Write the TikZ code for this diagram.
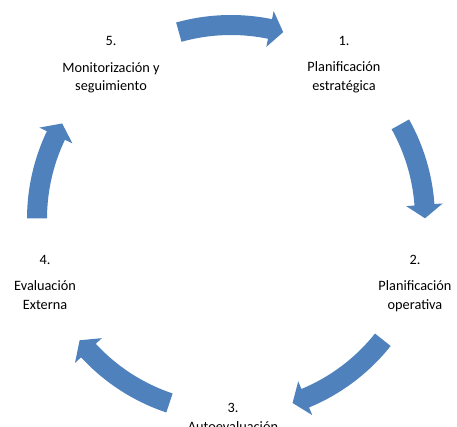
\documentclass[tikz,border=0pt]{standalone}
\usepackage{fontspec}
\setmainfont{Carlito}
\usetikzlibrary{calc}
\definecolor{cycleblue}{HTML}{4F81BD}

\begin{document}
\begin{tikzpicture}[x=1pt, y=1pt,
      lbl/.style={align=center, anchor=base, inner sep=0pt,
      font=\fontsize{14.3}{18.5}\selectfont},
      flow/.style={fill=cycleblue},
    ]
    \useasboundingbox (0,0) rectangle (457,427);
    \coordinate (c) at (231,208);

    % Stages (anchored at the baseline of the last line)
    \node[lbl] (s1) at (344,336.8) {1.\\[8pt]Planificación\\estratégica};
    \node[lbl] (s2) at (415,117.8) {2.\\[8pt]Planificación\\operativa};
    \node[lbl] (s3) at (233,-4.2) {3.\\Autoevaluación};
    \node[lbl] (s4) at (45,117.8) {4.\\[8pt]Evaluación\\Externa};
    \node[lbl] (s5) at (111,336.1) {5.\\[8pt]Monitorización y\\seguimiento};

    % Cycle arrows (tail angle / tip angle)
    \foreach \ta/\tb in {105.6/74.4, 29.2/0.2, -38.5/-71.5, -108.5/-141.3, 179.8/150.5}
      \fill[flow] ($(c)+(\ta:204)$) arc[start angle=\ta, end angle=\tb+4, radius=204]
        -- ($(c)+(\tb+4:212.3)$) -- ($(c)+(\tb:194)$) -- ($(c)+(\tb+4:175.7)$)
        -- ($(c)+(\tb+4:184)$) arc[start angle=\tb+4, end angle=\ta, radius=184] -- cycle;
  \end{tikzpicture}
\end{document}
